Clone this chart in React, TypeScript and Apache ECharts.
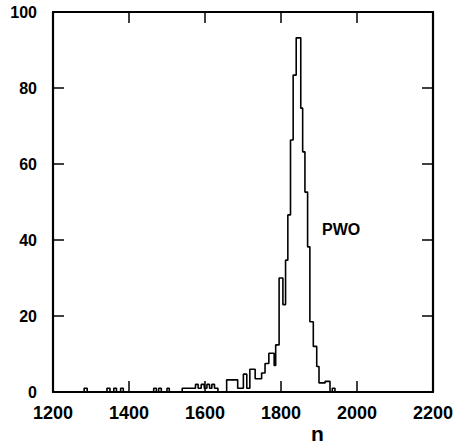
import React, { useEffect, useRef } from "react";
import * as echarts from "echarts";

// Histogram step edges (n) and counts
const binEdges = [1240, 1282, 1290, 1342, 1350, 1360, 1367, 1378, 1385, 1465, 1472, 1478, 1485, 1500, 1506, 1540, 1575, 1582, 1590, 1598, 1605, 1612, 1618, 1625, 1634, 1657, 1686, 1701, 1710, 1718, 1732, 1749, 1758, 1768, 1782, 1786, 1795, 1805, 1812, 1818, 1825, 1832, 1840, 1852, 1857, 1863, 1870, 1876, 1885, 1894, 1900, 1916, 1929, 1935, 1942, 1990];
const counts = [0, 1, 0, 1, 0, 1, 0, 1, 0, 1, 0, 1, 0, 1, 0, 1, 2, 1, 2, 1, 2, 1, 2, 1, 0, 3.2, 1, 4.7, 1, 6, 3.5, 5, 7.5, 10.2, 7, 12.4, 30, 23, 34.7, 46.6, 66.3, 83.4, 93.2, 74.7, 63.2, 52.6, 38.2, 18.5, 12, 6.7, 2.4, 2.8, 0, 1, 0, 0];

const xTicks = { min: 1200, max: 2200, interval: 200 };
const yTicks = { min: 0, max: 100, interval: 20 };
const seriesLabel = "PWO";
const xName = "n";

export default function App() {
  const ref = useRef<HTMLDivElement>(null);
  useEffect(() => {
    if (!ref.current) return;
    const chart = echarts.init(ref.current, null, { renderer: "svg" });
    const font = "Liberation Sans";
    const axisLine = { show: true, onZero: false, lineStyle: { color: "#000", width: 2.2 } };
    const tick = { show: true, inside: true, length: 11, lineStyle: { color: "#000", width: 1.5 } };
    chart.setOption({
      animation: false,
      backgroundColor: "#fff",
      grid: { left: 53, right: 33, top: 12, bottom: 53 },
      xAxis: [
        {
          type: "value", position: "bottom", ...xTicks,
          axisLine, axisTick: tick, splitLine: { show: false },
          axisLabel: {
            color: "#000", fontFamily: font, fontWeight: "bold", fontSize: 18, margin: 12,
            formatter: (v: number) => String(v),
          },
        },
        {
          type: "value", position: "top", ...xTicks,
          axisLine, axisTick: tick, splitLine: { show: false }, axisLabel: { show: false },
        },
      ],
      yAxis: [
        {
          type: "value", position: "left", ...yTicks,
          axisLine, axisTick: tick, splitLine: { show: false },
          axisLabel: { color: "#000", fontFamily: font, fontWeight: "bold", fontSize: 16, margin: 16 },
        },
        {
          type: "value", position: "right", ...yTicks,
          axisLine, axisTick: tick, splitLine: { show: false }, axisLabel: { show: false },
        },
      ],
      series: [
        {
          type: "line",
          step: "end",
          symbol: "none",
          data: binEdges.map((e, i) => [e, counts[i]]),
          lineStyle: { color: "#000", width: 1.6 },
        },
      ],
      graphic: [
        {
          type: "text", left: 322, top: 221,
          style: { text: seriesLabel, font: `bold 16px ${font}`, fill: "#000" },
        },
        {
          type: "text", x: 311, y: 444,
          style: { text: xName, font: `bold 21px ${font}`, fill: "#000", textVerticalAlign: "bottom" },
        },
      ],
    });
    return () => chart.dispose();
  }, []);
  return (
    <div
      ref={ref}
      style={{ position: "absolute", left: 0, top: 0, width: 466, height: 445 }}
    />
  );
}
